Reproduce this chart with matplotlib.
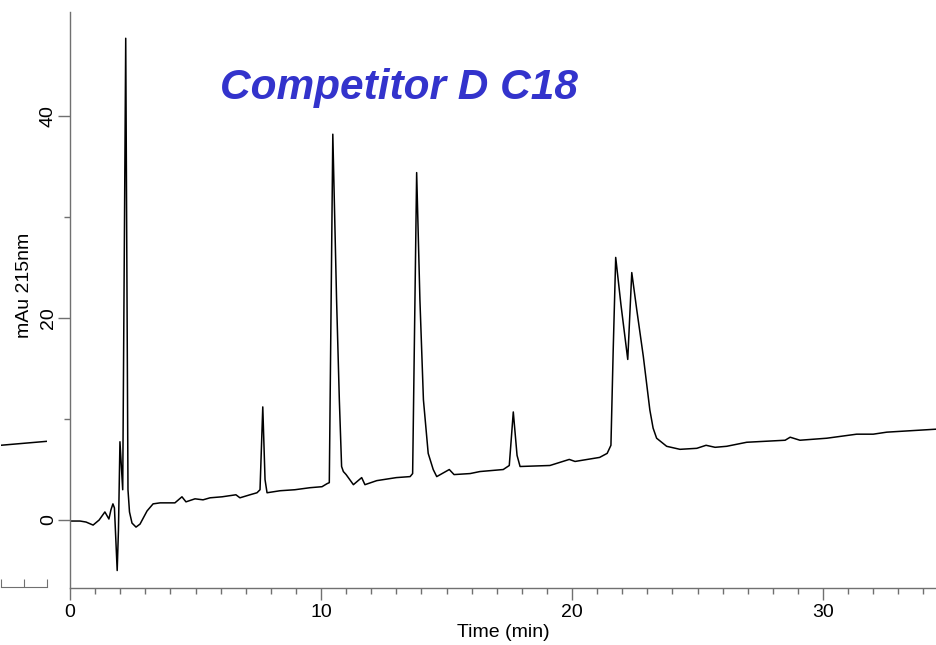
import numpy as np
import matplotlib.pyplot as plt
from matplotlib.ticker import MultipleLocator

plt.rcParams['font.family'] = ['Liberation Sans', 'DejaVu Sans']

# chromatogram trace: time (min) and absorbance (mAu)
time_min = [0.0, 0.4, 0.64, 0.92, 1.16, 1.39, 1.55, 1.63, 1.71, 1.77, 1.88, 1.93,
            1.99, 2.1, 2.22, 2.31, 2.37, 2.47, 2.63, 2.79, 3.07, 3.31, 3.59, 4.18,
            4.46, 4.62, 4.98, 5.3, 5.58, 6.06, 6.61, 6.77, 7.17, 7.45, 7.57, 7.68,
            7.77, 7.85, 8.37, 8.96, 9.56, 10.04, 10.24, 10.33, 10.47, 10.62, 10.73,
            10.82, 10.89, 11.0, 11.29, 11.62, 11.75, 12.22, 13.0, 13.55, 13.65, 13.81,
            13.94, 14.08, 14.27, 14.47, 14.61, 15.11, 15.3, 15.94, 16.33, 17.26, 17.5,
            17.66, 17.81, 17.93, 19.12, 19.89, 20.12, 21.1, 21.4, 21.55, 21.64, 21.74,
            21.95, 22.22, 22.38, 22.58, 22.84, 23.1, 23.23, 23.37, 23.77, 24.3, 24.97,
            25.34, 25.7, 26.16, 26.96, 28.49, 28.69, 29.08, 30.15, 31.34, 32.0, 32.54,
            34.54]
signal_mau = [-0.1, -0.1, -0.2, -0.5, 0.0, 0.8, 0.1, 1.0, 1.6, 1.2, -5.0, -1.0,
              7.75, 3.0, 47.7, 3.0, 0.8, -0.3, -0.7, -0.4, 0.9, 1.6, 1.7, 1.7,
              2.3, 1.8, 2.1, 2.0, 2.2, 2.3, 2.5, 2.2, 2.5, 2.7, 3.0, 11.2,
              4.0, 2.7, 2.9, 3.0, 3.2, 3.3, 3.6, 3.7, 38.2, 21.8, 11.9,
              5.3, 4.8, 4.5, 3.5, 4.2, 3.5, 3.9, 4.2, 4.3, 4.6, 34.4,
              21.8, 11.9, 6.6, 5.0, 4.3, 5.0, 4.5, 4.6, 4.8, 5.0, 5.4,
              10.7, 6.4, 5.3, 5.4, 6.0, 5.8, 6.2, 6.6, 7.4, 16.8, 26.0,
              21.3, 15.9, 24.5, 20.8, 16.2, 10.9, 9.1, 8.1, 7.3, 7.0, 7.1,
              7.4, 7.2, 7.3, 7.7, 7.9, 8.2, 7.9, 8.1, 8.5, 8.5, 8.7,
              9.0]

# cut-off piece of a neighbouring trace at the far left
side_x = [0.0, 0.5, 1.0, 1.5, 2.0]
side_y = [7.3, 7.4, 7.5, 7.6, 7.7]

title = 'Competitor D C18'

fig = plt.figure(figsize=(9.37, 6.45), dpi=100)
spine_col = '#707070'

ax = fig.add_axes([70 / 937, 57 / 645, 867 / 937, 576 / 645])
ax.plot(time_min, signal_mau, color='black', lw=1.1)
ax.set_xlim(0, 34.54)
ax.set_ylim(-6.73, 50.3)
for s in ['top', 'right']:
    ax.spines[s].set_visible(False)
for s in ['left', 'bottom']:
    ax.spines[s].set_color(spine_col)
    ax.spines[s].set_linewidth(1.0)

ax.set_xticks([0, 10, 20, 30])
ax.xaxis.set_minor_locator(MultipleLocator(1))
ax.set_yticks([0, 20, 40])
ax.set_yticks([10, 30], minor=True)
ax.tick_params(which='major', length=8.5, width=1, color=spine_col, labelsize=14, pad=3)
ax.tick_params(axis='y', which='major', pad=1)
ax.tick_params(which='minor', length=4.5, width=1, color=spine_col)
for lbl in ax.get_yticklabels():
    lbl.set_rotation(90)
    lbl.set_va('center')
ax.set_xlabel('Time (min)', fontsize=14, labelpad=2)
ax.set_ylabel('mAu 215nm', fontsize=14)
ax.yaxis.set_label_coords(-0.043, 0.526)

ax2 = fig.add_axes([0.5 / 937, 58 / 645, 47 / 937, 576 / 645])
ax2.plot(side_x, side_y, color='black', lw=1.1)
ax2.set_xlim(0, 2)
ax2.set_ylim(-6.73, 50.3)
for s in ['top', 'right', 'left']:
    ax2.spines[s].set_visible(False)
ax2.spines['bottom'].set_color(spine_col)
ax2.set_xticks([0, 1, 2])
ax2.set_yticks([])
ax2.tick_params(axis='x', direction='in', length=6, color=spine_col, labelbottom=False)
ax2.patch.set_visible(False)

fig.text(220 / 937, 1 - 88 / 645, title, color='#3333cc', fontsize=30.5,
         fontweight='bold', fontstyle='italic', ha='left', va='center')

fig.savefig('out.png', dpi=100)
